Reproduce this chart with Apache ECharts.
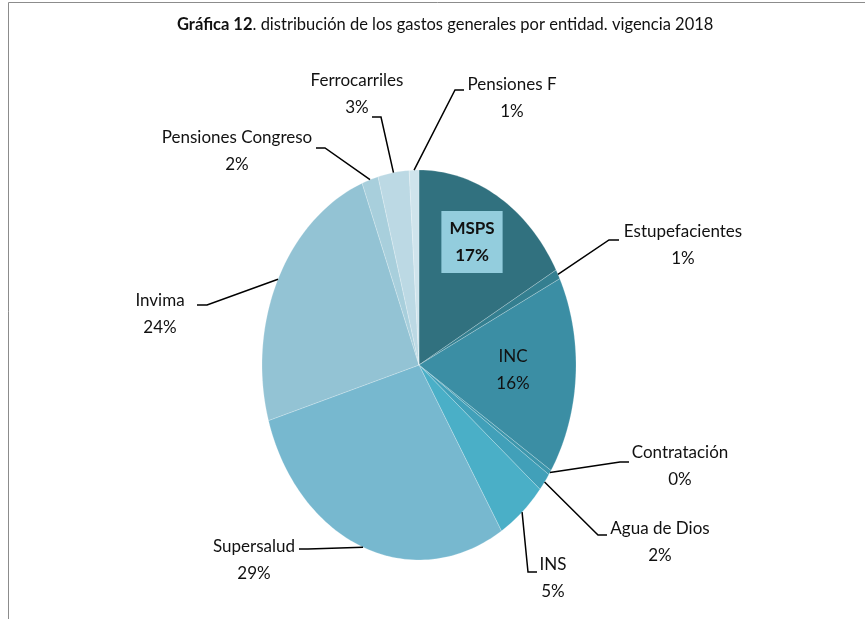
<!DOCTYPE html>
<html>
<head>
<meta charset="utf-8">
<script src="https://cdn.jsdelivr.net/npm/echarts@6/dist/echarts.min.js"></script>
<style>
  html, body { margin: 0; padding: 0; background: #fff; }
  #chart { width: 865px; height: 619px; }
</style>
</head>
<body>
<div id="chart"></div>
<script>
// datos: participación (%) en el sentido de las agujas del reloj, desde las 12
var categories = ['MSPS', 'Estupefacientes', 'INC', 'Contratación', 'Agua de Dios', 'INS',
  'Supersalud', 'Invima', 'Pensiones Congreso', 'Ferrocarriles', 'Pensiones F']
var shares = [16.9, 0.8, 16.4, 0.4, 1.5, 5.2, 29.2, 23.7, 1.7, 3.2, 1.0]
var colors = ['#31717f', '#347f90', '#3b8ea4', '#3d96ac', '#41a0b9', '#4aafc7',
  '#77b8cf', '#93c3d4', '#a8cfdc', '#bcd9e4', '#cfe4ec']

// ubicación de etiquetas: [textoX, textoY, codoX, codoY, colaX]; null = sin línea
var labelLayout = [
  [472, 242, null, null, null],
  [683, 245, 609, 240, 619],
  [513, 370, null, null, null],
  [680, 466, 620, 462, 629],
  [660, 542, 598, 535, 607],
  [553, 578, 528, 572, 537],
  [254, 560, 308, 549, 299],
  [160, 314, 207, 305, 197],
  [237, 151, 325, 148, 316],
  [357, 94, 381, 117, 372],
  [512, 98, 455, 90, 464]
]

var FONT = 'Lato, "Open Sans", sans-serif'
var cx = 419, cy = 365, rx = 157, ry = 195

var total = shares.reduce(function(a, b) { return a + b }, 0)
var starts = []
var acc = 0
shares.forEach(function(v) { starts.push(acc); acc += v })

function edge(frac) {
  var t = frac * 2 * Math.PI
  return [cx + rx * Math.sin(t), cy - ry * Math.cos(t)]
}

function renderItem(params, api) {
  var i = params.dataIndex
  var v = api.value(1)
  var f0 = starts[i] / total
  var f1 = (starts[i] + v) / total
  var pts = [[cx, cy]]
  var n = Math.max(2, Math.ceil((f1 - f0) * 240))
  for (var k = 0; k <= n; k++) {
    pts.push(edge(f0 + (f1 - f0) * k / n))
  }
  var children = [{
    type: 'polygon',
    shape: { points: pts },
    style: { fill: colors[i], stroke: 'rgba(255,255,255,0.35)', lineWidth: 0.6 }
  }]
  var lay = labelLayout[i]
  var inside = lay[2] === null
  var txt = categories[i] + '\n' + Math.round(v) + '%'
  if (!inside) {
    var p0 = edge((f0 + f1) / 2)
    children.push({
      type: 'polyline',
      shape: { points: [p0, [lay[2], lay[3]], [lay[4], lay[3]]] },
      style: { stroke: '#000', lineWidth: 1.5, fill: null },
      z2: 5
    })
  }
  var ts = {
    text: txt,
    x: lay[0],
    y: lay[1],
    align: 'center',
    verticalAlign: 'middle',
    fontFamily: FONT,
    fontSize: 17,
    lineHeight: 27,
    fill: '#111'
  }
  if (i === 0) {
    ts.fontWeight = 'bold'
    ts.backgroundColor = '#93cddd'
    ts.padding = [4, 8, 4, 8]
  }
  children.push({ type: 'text', style: ts, z2: 10 })
  return { type: 'group', children: children }
}

var chart = echarts.init(document.getElementById('chart'))
chart.setOption({
  animation: false,
  title: {
    text: '{b|Gráfica 12}{n|. distribución de los gastos generales por entidad. vigencia 2018}',
    left: 172,
    top: 11,
    textStyle: {
      rich: {
        b: { fontFamily: FONT, fontSize: 16.5, fontWeight: 'bold', color: '#111' },
        n: { fontFamily: FONT, fontSize: 16.5, fontWeight: 'normal', color: '#111' }
      }
    }
  },
  graphic: [{
    type: 'rect',
    shape: { x: 8.5, y: 2.5, width: 900, height: 700 },
    style: { fill: null, stroke: '#8c8c8c', lineWidth: 1 },
    silent: true
  }],
  series: [{
    type: 'custom',
    coordinateSystem: 'none',
    renderItem: renderItem,
    data: shares.map(function(v, i) { return [i, v] })
  }]
})
</script>
</body>
</html>
